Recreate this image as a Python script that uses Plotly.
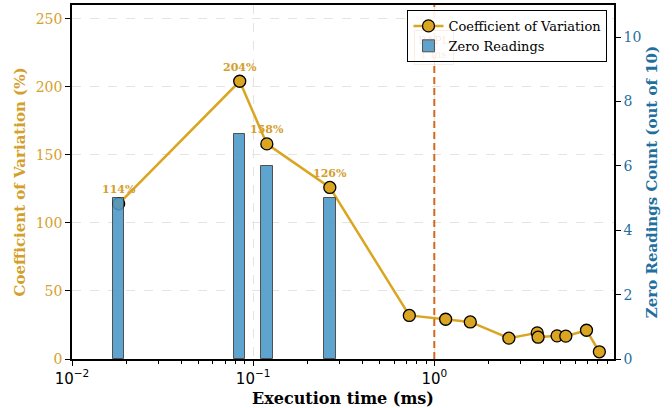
import numpy as np
import plotly.graph_objects as go

# ---- data ----
exec_time_ms = [0.0181, 0.0843, 0.119, 0.265, 0.728, 1.155, 1.58, 2.58, 3.70, 3.74, 4.76, 5.32, 6.92, 8.15]
cv_pct = [114, 204, 158, 126, 32, 29.2, 27.2, 15.3, 19.2, 16.0, 17.0, 16.8, 21.1, 5.3]
zero_readings = [5, 7, 6, 5, 0, 0, 0, 0, 0, 0, 0, 0, 0, 0]
labelled_points = [0, 1, 2, 3]
rapl_threshold_ms = 1.0
x_ticks = [0.01, 0.1, 1]
x_tick_text = ["10<sup>\u22122</sup>", "10<sup>\u22121</sup>", "10<sup>0</sup>"]
left_ticks = [0, 50, 100, 150, 200, 250]
right_ticks = [0, 2, 4, 6, 8, 10]

GOLD = "#DAA520"
GOLD_TXT = "#D4A02C"
BLUE_TXT = "#1F6F9F"
BAR = "#4A98C9"
SERIF = "DejaVu Serif"

bar_x = [x for x, z in zip(exec_time_ms, zero_readings) if z > 0]
bar_y = [z for z in zero_readings if z > 0]
bar_w = [x * 0.15 for x in bar_x]

fig = go.Figure()

fig.add_trace(go.Scatter(
    x=exec_time_ms, y=cv_pct, mode="lines+markers", name="Coefficient of Variation",
    line=dict(color=GOLD, width=2.5),
    marker=dict(size=12, color=GOLD, line=dict(color="black", width=1.3)),
    yaxis="y",
))
fig.add_trace(go.Scatter(
    x=[rapl_threshold_ms, rapl_threshold_ms], y=[0, 260], mode="lines",
    line=dict(color="#D2691E", width=2, dash="7px,4px"), showlegend=False, hoverinfo="skip",
    yaxis="y",
))
fig.add_trace(go.Bar(
    x=bar_x, y=bar_y, width=bar_w, name="Zero Readings",
    marker=dict(color=BAR, line=dict(color="#3a3a3a", width=1)), opacity=0.88,
    yaxis="y2",
))

anns = []
for i in labelled_points:
    anns.append(dict(
        x=np.log10(exec_time_ms[i]), y=cv_pct[i], xref="x", yref="y",
        text=f"{cv_pct[i]:.0f}%", showarrow=False, yshift=14,
        font=dict(family=SERIF, size=11, color=GOLD_TXT, weight="bold"),
    ))
anns.append(dict(
    x=np.log10(rapl_threshold_ms), y=0.93, xref="x", yref="paper",
    text="RAPL<br>1 ms", showarrow=False,
    font=dict(family=SERIF, size=11, color="rgba(210,105,30,0.15)"),
    bordercolor="rgba(210,105,30,0.12)", borderwidth=1, borderpad=3,
))

fig.update_layout(
    width=672, height=408,
    margin=dict(l=72, r=58, t=3, b=49),
    paper_bgcolor="white", plot_bgcolor="white",
    font=dict(family=SERIF, size=14, color="black"),
    bargap=0,
    xaxis=dict(
        type="log", range=[-2, 0.992],
        tickmode="array", tickvals=x_ticks, ticktext=x_tick_text,
        tickfont=dict(family="DejaVu Sans", size=15, color="black"),
        ticks="outside", ticklen=5, tickwidth=1.2, tickcolor="black",
        minor=dict(ticks="outside", ticklen=3, tickcolor="black", tickwidth=0.8,
                   tickmode="array",
                   tickvals=[m * d for d in (0.01, 0.1, 1) for m in range(2, 10)]),
        showline=True, linecolor="black", linewidth=1.5, mirror=True,
        showgrid=True, gridcolor="#e4e4e4", griddash="dash", gridwidth=1,
        title=dict(text="Execution time (ms)", font=dict(family=SERIF, size=16, weight="bold"), standoff=6),
        zeroline=False,
    ),
    yaxis=dict(
        range=[0, 260], tickvals=left_ticks,
        tickfont=dict(family=SERIF, size=14, color=GOLD_TXT),
        ticks="outside", ticklen=5, tickwidth=1.2, tickcolor="black",
        showline=True, linecolor="black", linewidth=1.5,
        showgrid=True, gridcolor="#e4e4e4", griddash="dash", gridwidth=1,
        zeroline=False,
        title=dict(text="Coefficient of Variation (%)", font=dict(family=SERIF, size=15, weight="bold", color=GOLD_TXT), standoff=6),
    ),
    yaxis2=dict(
        range=[0, 11], tickvals=right_ticks, overlaying="y", side="right",
        tickfont=dict(family=SERIF, size=14, color=BLUE_TXT),
        ticks="outside", ticklen=5, tickwidth=1.2, tickcolor="black",
        showline=True, linecolor="black", linewidth=1.5,
        showgrid=False, zeroline=False,
        title=dict(text="Zero Readings Count (out of 10)", font=dict(family=SERIF, size=15, weight="bold", color=BLUE_TXT), standoff=6),
    ),
    legend=dict(
        x=0.988, y=0.986, xanchor="right", yanchor="top",
        bgcolor="rgba(255,255,255,0.92)", bordercolor="black", borderwidth=1,
        font=dict(family=SERIF, size=13, color="black"),
        tracegroupgap=0, itemwidth=30,
    ),
    annotations=anns,
    showlegend=True,
)

fig.write_html("out.html")
